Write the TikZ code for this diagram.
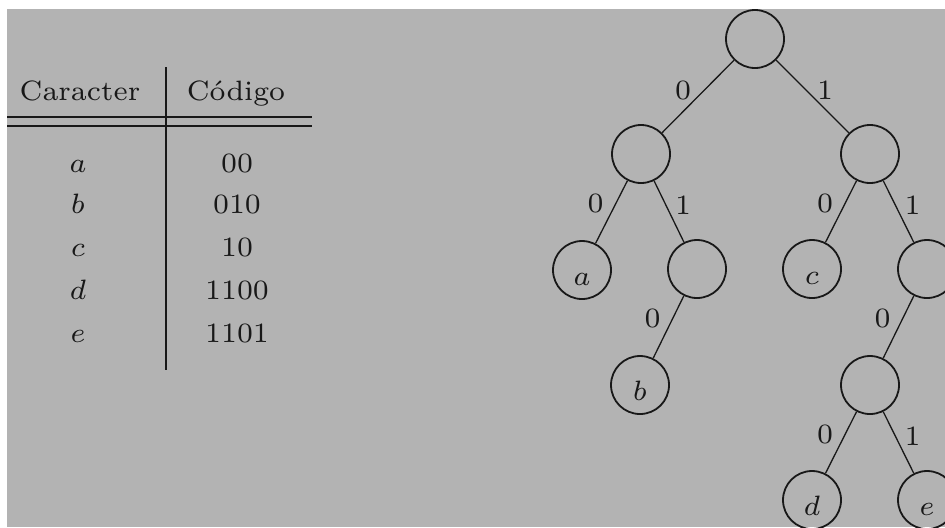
\documentclass[tikz,border=0pt]{standalone}
\usepackage{graphicx}
\definecolor{bg}{RGB}{179,179,179}
\definecolor{ink}{RGB}{24,24,24}
% text set at the 7pt optical size, enlarged
\newcommand{\txt}[1]{\scalebox{2}{\fontsize{7}{8.4}\selectfont #1}}
\begin{document}
\begin{tikzpicture}[x=0.5pt,y=-0.5pt,
  every node/.style={inner sep=0pt, text=ink},
  tree/.style={draw=ink, line width=0.9pt, circle, minimum size=29pt},
  edge/.style={draw=ink, line width=0.65pt},
  rule/.style={draw=ink, line width=0.8pt},
  cell/.style={anchor=base},
  zl/.style={midway, xshift=-8pt, yshift=4.25pt},
  ol/.style={midway, xshift=7pt, yshift=3.25pt},
  % leaf letters sit below the centre: baseline 7.5pt under it
  leaf/.style={tree, text height=15pt, text depth=0pt}
]
\clip (0,0) rectangle (945,527);
\useasboundingbox (0,0) rectangle (945,527);
\fill[white] (0,0) rectangle (945,527);
\fill[bg] (7,9) rectangle (945,527);

% code table
\node[cell] (hc) at (80,100) {\txt{Caracter}};
\node[cell] (hk) at (236,100) {\txt{Código}};
\node[cell] (ca) at (78,172) {\txt{$a$}};
\node[cell] (ka) at (237,172) {\txt{00}};
\node[cell] (cb) at (78,213) {\txt{$b$}};
\node[cell] (kb) at (237,213) {\txt{010}};
\node[cell] (cc) at (78,256) {\txt{$c$}};
\node[cell] (kc) at (237,256) {\txt{10}};
\node[cell] (cd) at (78,299) {\txt{$d$}};
\node[cell] (kd) at (237,299) {\txt{1100}};
\node[cell] (ce) at (78,342) {\txt{$e$}};
\node[cell] (ke) at (237,342) {\txt{1101}};
\coordinate (vt) at (166,67);
\coordinate (vb) at (166,370);
\coordinate (h1l) at (7,117);
\coordinate (h1r) at (312,117);
\coordinate (h2l) at (7,126);
\coordinate (h2r) at (312,126);
\draw[rule] (vt) -- (vb);
\draw[rule] (h1l) -- (h1r);
\draw[rule] (h2l) -- (h2r);

% code tree
\node[tree] (r) at (755,39) {};
\node[tree] (n0) at (641,154) {};
\node[tree] (n1) at (870,154) {};
\node[leaf] (a) at (582,270) {\txt{$a$}};
\node[tree] (n01) at (697,269) {};
\node[leaf] (c) at (812,269) {\txt{$c$}};
\node[tree] (n11) at (927,269) {};
\node[leaf] (b) at (640,385) {\txt{$b$}};
\node[tree] (n110) at (870,385) {};
\node[leaf] (d) at (812,500) {\txt{$d$}};
\node[leaf] (e) at (927,500) {\txt{$e$}};

\draw[edge] (r) -- node[midway, xshift=-7.5pt, yshift=3.25pt] {\txt{0}} (n0);
\draw[edge] (r) -- node[midway, xshift=6.25pt, yshift=3.25pt] {\txt{1}} (n1);
\draw[edge] (n0) -- node[zl] {\txt{0}} (a);
\draw[edge] (n0) -- node[ol] {\txt{1}} (n01);
\draw[edge] (n1) -- node[zl] {\txt{0}} (c);
\draw[edge] (n1) -- node[ol] {\txt{1}} (n11);
\draw[edge] (n01) -- node[zl] {\txt{0}} (b);
\draw[edge] (n11) -- node[zl] {\txt{0}} (n110);
\draw[edge] (n110) -- node[zl] {\txt{0}} (d);
\draw[edge] (n110) -- node[ol] {\txt{1}} (e);
\end{tikzpicture}
\end{document}
